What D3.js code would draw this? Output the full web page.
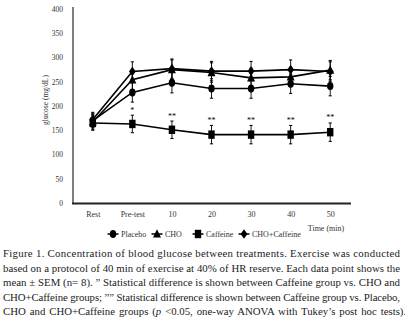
<!DOCTYPE html>
<html>
<head>
<meta charset="utf-8">
<script src="https://cdn.jsdelivr.net/npm/d3@7"></script>
<style>
  body { margin: 0; background: #fff; }
  svg { display: block; }
</style>
</head>
<body>
<div id="chart"></div>
<script>
// Values
const timeLabels = ["Rest", "Pre-test", "10", "20", "30", "40", "50"];
const placebo = [170, 228, 248, 236, 236, 246, 241];
const cho = [167, 254, 275, 269, 258, 260, 274];
const caffeine = [165, 163, 151, 141, 141, 141, 146];
const choCaffeine = [172, 271, 277, 272, 272, 275, 271];
const placeboSem = [15, 20, 21, 20, 20, 20, 20];
const choSem = [15, 20, 20, 20, 20, 20, 20];
const caffeineSem = [15, 18, 18, 19, 19, 19, 19];
const choCaffeineSem = [15, 20, 20, 20, 20, 20, 20];
const sigMarks = ["", "*", "**", "**", "**", "**", "**"];
const yTicks = [0, 50, 100, 150, 200, 250, 300, 350, 400];
const seriesNames = ["Placebo", "CHO", "Caffeine", "CHO+Caffeine"];

const W = 405, H = 325;
const svg = d3.select("#chart").append("svg").attr("width", W).attr("height", H);
const serif = "'Liberation Serif', 'DejaVu Serif', serif";

const x = d3.scalePoint().domain(timeLabels).range([73, 350]).padding(0.5);
const y = d3.scaleLinear().domain([0, 400]).range([203, 9]);

const series = [
  { name: seriesNames[0], vals: placebo, sem: placeboSem, shape: "circle" },
  { name: seriesNames[1], vals: cho, sem: choSem, shape: "triangle" },
  { name: seriesNames[2], vals: caffeine, sem: caffeineSem, shape: "square" },
  { name: seriesNames[3], vals: choCaffeine, sem: choCaffeineSem, shape: "diamond" },
];

function drawMarker(g, shape, cx, cy) {
  if (shape === "circle") {
    g.append("ellipse").attr("cx", cx).attr("cy", cy).attr("rx", 3.2).attr("ry", 4).attr("fill", "#000");
  } else if (shape === "square") {
    g.append("rect").attr("x", cx - 3.2).attr("y", cy - 4.2).attr("width", 6.4).attr("height", 8.4).attr("fill", "#000");
  } else if (shape === "triangle") {
    g.append("path").attr("d", `M${cx},${cy - 4.8}L${cx + 4},${cy + 3.6}L${cx - 4},${cy + 3.6}Z`).attr("fill", "#000");
  } else {
    g.append("path").attr("d", `M${cx},${cy - 4.8}L${cx + 3.4},${cy}L${cx},${cy + 4.8}L${cx - 3.4},${cy}Z`).attr("fill", "#000");
  }
}

// Y axis
const yAxis = svg.append("g")
  .attr("transform", "translate(73,0)")
  .call(d3.axisLeft(y).tickValues(yTicks).tickSize(0).tickPadding(10));
yAxis.select(".domain").remove();
yAxis.selectAll("text").attr("font-family", serif).attr("font-size", 7.5).attr("fill", "#333");
svg.append("line").attr("x1", 73).attr("x2", 73).attr("y1", 7).attr("y2", 203)
  .attr("stroke", "#555").attr("stroke-width", 1.5);

svg.append("text")
  .attr("transform", "translate(48,100) rotate(-90)")
  .attr("text-anchor", "middle")
  .attr("font-family", serif).attr("font-size", 7.5).attr("fill", "#333")
  .text("glucose (mg/dL)");

// X axis
const xAxis = svg.append("g")
  .attr("transform", "translate(0,203)")
  .call(d3.axisBottom(x).tickSize(0).tickPadding(8));
xAxis.select(".domain").remove();
xAxis.selectAll("text").attr("font-family", serif).attr("font-size", 8).attr("fill", "#333");
svg.append("line").attr("x1", 72).attr("x2", 351).attr("y1", 203.5).attr("y2", 203.5)
  .attr("stroke", "#222").attr("stroke-width", 2);

svg.append("text").attr("x", 326).attr("y", 231).attr("text-anchor", "middle")
  .attr("font-family", serif).attr("font-size", 8).attr("fill", "#333").text("Time (min)");

// Series
const line = d3.line().x((d, i) => x(timeLabels[i])).y(d => y(d));
series.forEach(s => {
  const g = svg.append("g");
  g.append("path").datum(s.vals).attr("d", line)
    .attr("fill", "none").attr("stroke", "#000").attr("stroke-width", 1.6);
  s.vals.forEach((v, i) => {
    const cx = x(timeLabels[i]);
    g.append("line").attr("x1", cx).attr("x2", cx).attr("y1", y(v - s.sem[i])).attr("y2", y(v + s.sem[i]))
      .attr("stroke", "#000").attr("stroke-width", 0.9);
    [v - s.sem[i], v + s.sem[i]].forEach(e => {
      g.append("line").attr("x1", cx - 1.6).attr("x2", cx + 1.6).attr("y1", y(e)).attr("y2", y(e))
        .attr("stroke", "#000").attr("stroke-width", 1);
    });
    drawMarker(g, s.shape, cx, y(v));
  });
});

// significance marks above Caffeine
caffeine.forEach((v, i) => {
  if (!sigMarks[i]) return;
  svg.append("text").attr("x", x(timeLabels[i])).attr("y", y(v + caffeineSem[i]) - 2.5)
    .attr("text-anchor", "middle").attr("font-family", serif).attr("font-size", 8)
    .attr("fill", "#000").text(sigMarks[i]);
});

// Legend
const legendX = [113, 157, 198, 244];
const legend = svg.append("g");
series.forEach((s, i) => {
  const lx = legendX[i], ly = 234;
  legend.append("line").attr("x1", lx - 5.5).attr("x2", lx + 5.5).attr("y1", ly).attr("y2", ly)
    .attr("stroke", "#000").attr("stroke-width", 1.5);
  drawMarker(legend, s.shape, lx, ly);
  legend.append("text").attr("x", lx + 8).attr("y", ly + 2.8)
    .attr("font-family", serif).attr("font-size", 8).attr("fill", "#333").text(s.name);
});

// Caption
const caption = [
  "Figure 1.  Concentration of blood glucose between treatments. Exercise was conducted",
  "based on a protocol of 40 min of exercise at 40% of HR reserve. Each data point shows the",
  "mean \u00b1 SEM (n= 8). \u201d Statistical difference is shown between Caffeine group vs. CHO and",
  "CHO+Caffeine groups; \u201d\u201d Statistical difference is shown between Caffeine group vs. Placebo,",
];
caption.forEach((t, i) => {
  svg.append("text").attr("x", 3).attr("y", 257 + i * 14.5)
    .attr("font-family", serif).attr("font-size", 10.8).attr("fill", "#222")
    .attr("textLength", 397).attr("lengthAdjust", "spacing")
    .text(t);
});
const last = svg.append("text").attr("x", 3).attr("y", 257 + 4 * 14.5)
  .attr("font-family", serif).attr("font-size", 10.8).attr("fill", "#222")
  .attr("word-spacing", 1.2);
last.append("tspan").text("CHO and CHO+Caffeine groups (");
last.append("tspan").attr("font-style", "italic").text("p");
last.append("tspan").text(" <0.05, one-way ANOVA with Tukey\u2019s post hoc tests).");
</script>
</body>
</html>
